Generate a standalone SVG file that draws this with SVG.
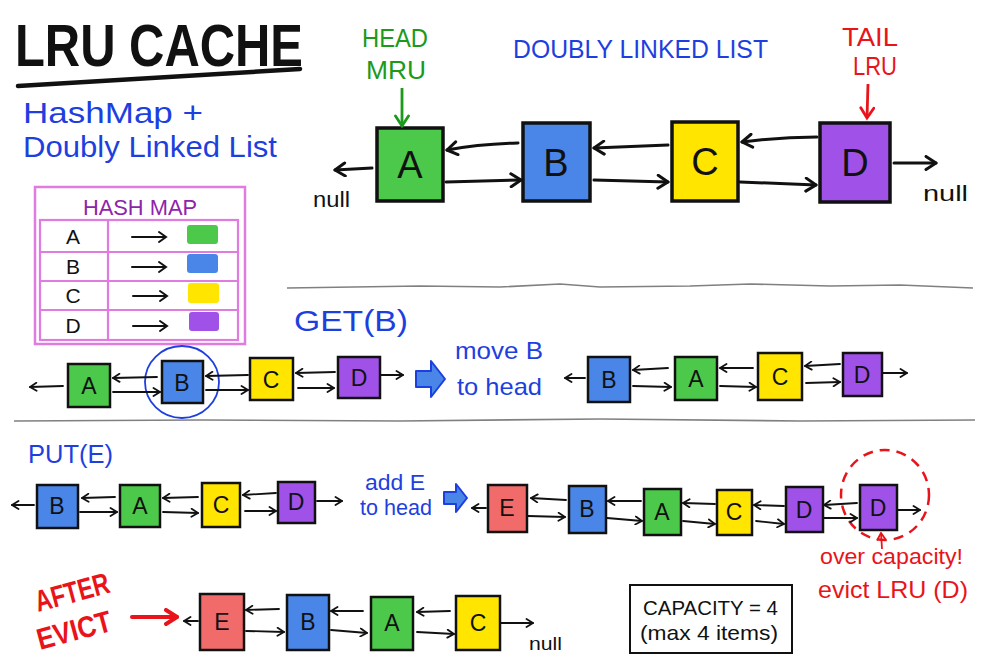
<svg xmlns="http://www.w3.org/2000/svg" width="1000" height="667" viewBox="0 0 1000 667">
<defs>
<style>
text{font-family:"Liberation Sans","DejaVu Sans",sans-serif;}
.nb rect{stroke:#111;stroke-width:3.5;}
.ns rect{stroke:#111;stroke-width:2.5;}
.nb text{font-size:38px;text-anchor:middle;fill:#111;}
.ns text{font-size:23px;text-anchor:middle;fill:#111;}
.g{fill:#4CC94A;} .b{fill:#4A86E8;} .y{fill:#FFE500;} .p{fill:#A052E8;} .r{fill:#F26B6B;}
.cb{stroke:#111;stroke-width:3;fill:none;stroke-linecap:round;marker-end:url(#ahb);}
.cs{stroke:#111;stroke-width:1.8;fill:none;stroke-linecap:round;marker-end:url(#ahs);}
.blue{fill:#1E3FE0;} .sep{stroke:#808080;stroke-width:1.6;fill:none;}
</style>
<marker id="ahb" markerWidth="16" markerHeight="16" refX="13" refY="8" orient="auto" markerUnits="userSpaceOnUse"><path d="M3,1.5 L13,8 L3,14.5" fill="none" stroke="#111" stroke-width="3" stroke-linecap="round" stroke-linejoin="round"/></marker>
<marker id="ahs" markerWidth="10" markerHeight="10" refX="8.5" refY="5" orient="auto" markerUnits="userSpaceOnUse"><path d="M2,1 L8.5,5 L2,9" fill="none" stroke="#111" stroke-width="1.8" stroke-linecap="round" stroke-linejoin="round"/></marker>
<marker id="ahg" markerWidth="16" markerHeight="16" refX="13" refY="8" orient="auto" markerUnits="userSpaceOnUse"><path d="M3,1.5 L13,8 L3,14.5" fill="none" stroke="#1B9A1B" stroke-width="2.8" stroke-linecap="round"/></marker>
<marker id="ahr" markerWidth="16" markerHeight="16" refX="13" refY="8" orient="auto" markerUnits="userSpaceOnUse"><path d="M3,1.5 L13,8 L3,14.5" fill="none" stroke="#E8141A" stroke-width="2.8" stroke-linecap="round"/></marker>
<marker id="ahrs" markerWidth="10" markerHeight="10" refX="8.5" refY="5" orient="auto" markerUnits="userSpaceOnUse"><path d="M2,1 L8.5,5 L2,9" fill="none" stroke="#E8141A" stroke-width="1.8" stroke-linecap="round"/></marker>
<marker id="ahred" markerWidth="18" markerHeight="18" refX="14" refY="9" orient="auto" markerUnits="userSpaceOnUse"><path d="M3,2 L14,9 L3,16" fill="none" stroke="#E8141A" stroke-width="4" stroke-linecap="round" stroke-linejoin="round"/></marker>
</defs>
<rect width="1000" height="667" fill="#ffffff"/>

<!-- Title -->
<g id="title">
<text x="15" y="66" font-size="60" font-weight="bold" fill="#111" textLength="288" lengthAdjust="spacingAndGlyphs">LRU CACHE</text>
<path d="M18,86 L300,69" stroke="#111" stroke-width="4.5" stroke-linecap="round" fill="none"/>
<text x="23" y="123" font-size="30" class="blue" textLength="180" lengthAdjust="spacingAndGlyphs">HashMap +</text>
<text x="23" y="157" font-size="30" class="blue" textLength="254" lengthAdjust="spacingAndGlyphs">Doubly Linked List</text>
</g>

<!-- Hash map table -->
<g id="hashmap">
<rect x="35" y="187" width="210" height="157" fill="none" stroke="#E07BE0" stroke-width="2.5"/>
<text x="140" y="215" font-size="22" fill="#8E24AA" text-anchor="middle" textLength="114" lengthAdjust="spacingAndGlyphs">HASH MAP</text>
<rect x="40" y="220" width="198" height="120" fill="none" stroke="#E07BE0" stroke-width="2.2"/>
<path d="M40,252 H238 M40,281 H238 M40,310 H238 M108,220 V340" stroke="#E07BE0" stroke-width="2.2" fill="none"/>
<g font-size="21" fill="#111" text-anchor="middle">
<text x="73" y="244">A</text><text x="73" y="274">B</text><text x="73" y="303">C</text><text x="73" y="333">D</text>
</g>
<g stroke="#111" stroke-width="2" fill="none" stroke-linecap="round">
<path d="M132,237 H166 M159,232 L166,237 L159,242"/>
<path d="M132,267 H166 M159,262 L166,267 L159,272"/>
<path d="M133,296 H167 M160,291 L167,296 L160,301"/>
<path d="M133,326 H167 M160,321 L167,326 L160,331"/>
</g>
<rect x="187" y="225" width="31" height="19" rx="3" class="g"/>
<rect x="187" y="254" width="31" height="19" rx="3" class="b"/>
<rect x="188" y="283" width="31" height="20" rx="3" class="y"/>
<rect x="189" y="312" width="30" height="19" rx="3" class="p"/>
</g>

<!-- Top DLL labels -->
<g id="top-labels">
<text x="395" y="47" font-size="25" fill="#1B9A1B" text-anchor="middle" textLength="66" lengthAdjust="spacingAndGlyphs">HEAD</text>
<text x="396" y="79" font-size="25" fill="#1B9A1B" text-anchor="middle" textLength="60" lengthAdjust="spacingAndGlyphs">MRU</text>
<text x="513" y="58" font-size="26" class="blue" textLength="255" lengthAdjust="spacingAndGlyphs">DOUBLY LINKED LIST</text>
<text x="870" y="46" font-size="25" fill="#E8141A" text-anchor="middle" textLength="56" lengthAdjust="spacingAndGlyphs">TAIL</text>
<text x="875" y="75" font-size="25" fill="#E8141A" text-anchor="middle" textLength="44" lengthAdjust="spacingAndGlyphs">LRU</text>
<text x="313" y="207" font-size="22" fill="#111" textLength="37" lengthAdjust="spacingAndGlyphs">null</text>
<text x="923" y="201" font-size="22" fill="#111" textLength="45" lengthAdjust="spacingAndGlyphs">null</text>
</g>

<!-- Top DLL nodes -->
<g id="top-A" class="nb"><rect x="377" y="128" width="66" height="73" class="g"/><text x="410" y="178">A</text></g>
<g id="top-B" class="nb"><rect x="523" y="123" width="67" height="78" class="b"/><text x="556" y="176">B</text></g>
<g id="top-C" class="nb"><rect x="672" y="122" width="66" height="79" class="y"/><text x="705" y="175">C</text></g>
<g id="top-D" class="nb"><rect x="820" y="123" width="70" height="79" class="p"/><text x="855" y="176">D</text></g>

<!-- Separators -->
<g id="separators">
<path class="sep" d="M287,288 L420,286 L500,287 L560,284 L600,287 L690,286 L750,284 L830,286 L900,285 L973,288"/>
<path class="sep" d="M14,421 L200,420 L400,421 L600,419 L800,421 L975,420"/>
</g>

<!-- GET section -->
<g id="get-labels">
<text x="294" y="331" font-size="29" class="blue" textLength="114" lengthAdjust="spacingAndGlyphs">GET(B)</text>
<text x="455" y="359" font-size="24" class="blue" textLength="88" lengthAdjust="spacingAndGlyphs">move  B</text>
<text x="457" y="395" font-size="24" class="blue" textLength="85" lengthAdjust="spacingAndGlyphs">to head</text>
<path d="M416,371 H431 V361 L445,379 L431,397 V387 H416 Z" fill="#4A86E8" stroke="#1E3FE0" stroke-width="2" stroke-linejoin="round"/>
<ellipse cx="182" cy="382" rx="37" ry="36" fill="none" stroke="#1E3FE0" stroke-width="1.8"/>
</g>
<g id="get1-A" class="ns"><rect x="68" y="364" width="42" height="43" class="g"/><text x="89" y="394">A</text></g>
<g id="get1-B" class="ns"><rect x="162" y="361" width="41" height="42" class="b"/><text x="182" y="391">B</text></g>
<g id="get1-C" class="ns"><rect x="250" y="358" width="43" height="42" class="y"/><text x="271" y="388">C</text></g>
<g id="get1-D" class="ns"><rect x="338" y="357" width="42" height="41" class="p"/><text x="359" y="386">D</text></g>
<g id="get2-B" class="ns"><rect x="588" y="357" width="42" height="45" class="b"/><text x="609" y="388">B</text></g>
<g id="get2-A" class="ns"><rect x="675" y="357" width="42" height="43" class="g"/><text x="696" y="387">A</text></g>
<g id="get2-C" class="ns"><rect x="758" y="353" width="44" height="47" class="y"/><text x="780" y="385">C</text></g>
<g id="get2-D" class="ns"><rect x="843" y="353" width="39" height="43" class="p"/><text x="862" y="383">D</text></g>

<!-- PUT section -->
<g id="put-labels">
<text x="28" y="463" font-size="26" class="blue" textLength="85" lengthAdjust="spacingAndGlyphs">PUT(E)</text>
<text x="365" y="490" font-size="22" class="blue" textLength="60" lengthAdjust="spacingAndGlyphs">add  E</text>
<text x="360" y="515" font-size="22" class="blue" textLength="72" lengthAdjust="spacingAndGlyphs">to head</text>
<path d="M444,492 H456 V484 L467,498 L456,512 V504 H444 Z" fill="#4A86E8" stroke="#1E3FE0" stroke-width="2" stroke-linejoin="round"/>
<ellipse cx="885" cy="495" rx="44" ry="45" fill="none" stroke="#E8141A" stroke-width="2.5" stroke-dasharray="10 7"/>
<text x="820" y="564" font-size="22" fill="#E8141A" textLength="143" lengthAdjust="spacingAndGlyphs">over capacity!</text>
<text x="818" y="598" font-size="24" fill="#E8141A" textLength="150" lengthAdjust="spacingAndGlyphs">evict LRU (D)</text>
</g>
<g id="put1-B" class="ns"><rect x="37" y="485" width="41" height="43" class="b"/><text x="57" y="514">B</text></g>
<g id="put1-A" class="ns"><rect x="120" y="485" width="40" height="42" class="g"/><text x="140" y="514">A</text></g>
<g id="put1-C" class="ns"><rect x="202" y="483" width="38" height="44" class="y"/><text x="221" y="513">C</text></g>
<g id="put1-D" class="ns"><rect x="278" y="482" width="37" height="41" class="p"/><text x="296" y="510">D</text></g>
<g id="put2-E" class="ns"><rect x="488" y="485" width="39" height="47" class="r"/><text x="507" y="516">E</text></g>
<g id="put2-B" class="ns"><rect x="569" y="486" width="37" height="47" class="b"/><text x="587" y="517">B</text></g>
<g id="put2-A" class="ns"><rect x="644" y="489" width="37" height="46" class="g"/><text x="662" y="520">A</text></g>
<g id="put2-C" class="ns"><rect x="717" y="490" width="35" height="45" class="y"/><text x="734" y="520">C</text></g>
<g id="put2-D" class="ns"><rect x="786" y="487" width="37" height="45" class="p"/><text x="804" y="518">D</text></g>
<g id="put2-D-evict" class="ns"><rect x="860" y="485" width="37" height="45" class="p"/><text x="878" y="516">D</text></g>

<!-- After evict -->
<g id="after-labels">
<text x="38" y="612" font-size="30" font-weight="bold" fill="#E8141A" textLength="76" lengthAdjust="spacingAndGlyphs" transform="rotate(-15 38 612)">AFTER</text>
<text x="40" y="650" font-size="30" font-weight="bold" fill="#E8141A" textLength="76" lengthAdjust="spacingAndGlyphs" transform="rotate(-15 40 650)">EVICT</text>
<text x="529" y="650" font-size="18" fill="#111" textLength="33" lengthAdjust="spacingAndGlyphs">null</text>
</g>
<g id="ev-E" class="ns"><rect x="200" y="594" width="44" height="56" class="r"/><text x="222" y="630">E</text></g>
<g id="ev-B" class="ns"><rect x="287" y="595" width="42" height="55" class="b"/><text x="308" y="630">B</text></g>
<g id="ev-A" class="ns"><rect x="371" y="597" width="42" height="53" class="g"/><text x="392" y="631">A</text></g>
<g id="ev-C" class="ns"><rect x="456" y="596" width="44" height="54" class="y"/><text x="478" y="631">C</text></g>

<!-- Capacity box -->
<g id="capacity">
<rect x="630" y="585" width="162" height="68" fill="#fff" stroke="#111" stroke-width="2"/>
<text x="643" y="615" font-size="21" fill="#111" textLength="135" lengthAdjust="spacingAndGlyphs">CAPACITY = 4</text>
<text x="640" y="640" font-size="21" fill="#111" textLength="138" lengthAdjust="spacingAndGlyphs">(max 4  items)</text>
</g>

<!-- Connectors -->
<g id="connectors">
<path class="cb" d="M372,168 L335,170"/>
<path class="cb" d="M518,143 Q480,144 447,150"/>
<path class="cb" d="M446,182 L521,180"/>
<path class="cb" d="M668,145 L594,148"/>
<path class="cb" d="M594,180 L668,182"/>
<path class="cb" d="M817,137 Q780,137 742,142"/>
<path class="cb" d="M740,182 L816,185"/>
<path class="cb" d="M894,163 L936,163"/>
<path d="M402,88 L402,126" stroke="#1B9A1B" stroke-width="2.8" fill="none" marker-end="url(#ahg)"/>
<path d="M868,84 L867,118" stroke="#E8141A" stroke-width="2.8" fill="none" marker-end="url(#ahr)"/>

<path class="cs" d="M63,386 L30,387"/>
<path class="cs" d="M157,377 L113,378"/>
<path class="cs" d="M113,392 L160,392"/>
<path class="cs" d="M248,375 L206,376"/>
<path class="cs" d="M206,390 L248,390"/>
<path class="cs" d="M335,372 L296,373"/>
<path class="cs" d="M298,388 L334,388"/>
<path class="cs" d="M381,375 L403,375"/>

<path class="cs" d="M585,378 L565,378"/>
<path class="cs" d="M668,368 L633,370"/>
<path class="cs" d="M633,386 L671,387"/>
<path class="cs" d="M753,368 L720,368"/>
<path class="cs" d="M720,386 L756,387"/>
<path class="cs" d="M840,364 L805,366"/>
<path class="cs" d="M806,383 L840,382"/>
<path class="cs" d="M883,373 L907,373"/>

<path class="cs" d="M34,505 L12,505"/>
<path class="cs" d="M115,497 L82,498"/>
<path class="cs" d="M80,512 L117,512"/>
<path class="cs" d="M198,497 L163,498"/>
<path class="cs" d="M163,512 L198,513"/>
<path class="cs" d="M276,493 L243,495"/>
<path class="cs" d="M245,511 L276,511"/>
<path class="cs" d="M317,501 L342,501"/>

<path class="cs" d="M486,508 L472,508"/>
<path class="cs" d="M566,500 L531,498"/>
<path class="cs" d="M528,516 L565,517"/>
<path class="cs" d="M641,501 L608,501"/>
<path class="cs" d="M607,518 L642,521"/>
<path class="cs" d="M715,504 L683,503"/>
<path class="cs" d="M683,521 L715,524"/>
<path class="cs" d="M784,506 L754,505"/>
<path class="cs" d="M756,521 L784,524"/>
<path class="cs" d="M857,503 L824,505"/>
<path class="cs" d="M824,518 L857,518"/>
<path class="cs" d="M898,510 L920,510"/>
<path d="M882,549 L881,533" stroke="#E8141A" stroke-width="1.8" fill="none" marker-end="url(#ahrs)"/>

<path d="M132,617 L177,617" stroke="#E8141A" stroke-width="4" fill="none" stroke-linecap="round" marker-end="url(#ahred)"/>
<path class="cs" d="M198,621 L184,621"/>
<path class="cs" d="M279,609 L246,610"/>
<path class="cs" d="M246,631 L284,632"/>
<path class="cs" d="M363,611 L331,611"/>
<path class="cs" d="M331,630 L367,633"/>
<path class="cs" d="M450,611 L417,612"/>
<path class="cs" d="M417,632 L454,634"/>
<path class="cs" d="M501,623 L533,623"/>
</g>
</svg>
